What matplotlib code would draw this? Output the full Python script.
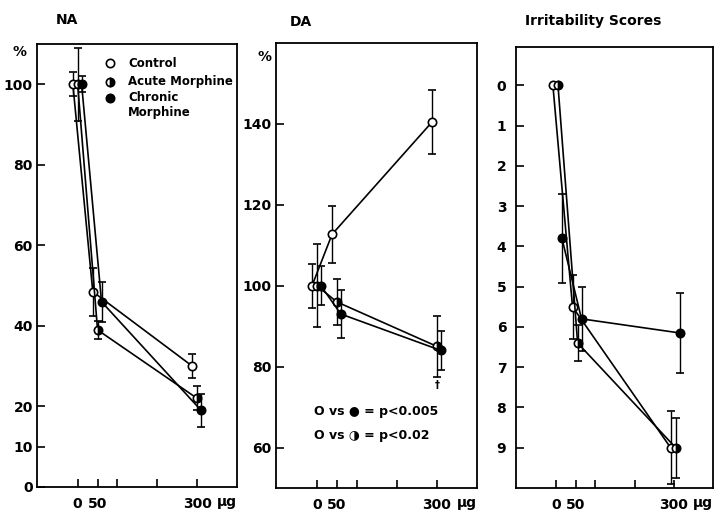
import matplotlib
matplotlib.use("Agg")
import matplotlib.pyplot as plt
import matplotlib.transforms as mtransforms

plt.rcParams['font.family'] = ['DejaVu Sans']
plt.rcParams['font.weight'] = 'bold'

# ---------------- data ----------------
doses = [0, 50, 300]
series_names = ["Control", "Acute Morphine", "Chronic\nMorphine"]

na_control = [100, 48.5, 30]
na_control_err = [3, 6, 3]
na_acute = [100, 39, 22]
na_acute_err = [9, 2.3, 3]
na_chronic = [100, 46, 19]
na_chronic_err = [2, 5, 4]

da_control = [100, 112.7, 140.5]
da_control_err = [5.4, 7, 8]
da_acute = [100, 96, 85]
da_acute_err = [10.2, 5.7, 7.6]
da_chronic = [100, 93, 84]
da_chronic_err = [4.8, 6, 4.8]

irr_control = [0, 5.5, 9.0]
irr_control_err = [0, 0.8, 0.9]
irr_acute = [0, 6.4, 9.0]
irr_acute_err = [0, 0.45, 0.75]
irr_chronic = [3.8, 5.8, 6.15]
irr_chronic_err = [1.1, 0.8, 1.0]

x_ticks = [0, 50, 100, 200, 300]
x_ticklabels = ["0", "50", "", "", "300"]
na_yticks = [0, 10, 20, 40, 60, 80, 100]
da_yticks = [60, 80, 100, 120, 140]
irr_yticks = [0, 1, 2, 3, 4, 5, 6, 7, 8, 9]
annot_lines = ["O vs \u25CF = p<0.005", "O vs \u25D1 = p<0.02"]

# ---------------- style ----------------
W, H = 721, 512
fig = plt.figure(figsize=(W / 100, H / 100), dpi=100)

def frac_rect(l, r, t, b):
    return [l / W, 1 - b / H, (r - l) / W, (b - t) / H]

styles = [
    dict(marker='o', mfc='white', mec='black'),
    dict(marker='o', mfc='black', mec='black', fillstyle='right', markerfacecoloralt='white'),
    dict(marker='o', mfc='black', mec='black'),
]
offsets_na = [-12, 0, 10]
offsets_da = [-12, 0, 10]
offsets_irr = [-8, 5, 15]

FS = 10

def draw_panel(ax, groups, offsets):
    for (vals, errs), st, off in zip(groups, styles, offsets):
        xs = [d + off for d in doses]
        ax.errorbar(xs, vals, yerr=errs, color='black', lw=1.2, elinewidth=1.0,
                    capsize=2.6, capthick=1.0, ms=6, mew=1.2, zorder=3, **st)
    ax.set_xlim(-102, 400)
    ax.set_xticks(x_ticks)
    ax.set_xticklabels(x_ticklabels)
    ax.tick_params(direction='in', length=6, width=1.2, labelsize=FS, top=False, right=False)
    ax.tick_params(axis='x', pad=7)
    ax.tick_params(axis='y', pad=3)
    for s in ax.spines.values():
        s.set_linewidth(1.3)
    trans = mtransforms.blended_transform_factory(ax.transData, ax.transAxes)
    ax.text(375, -0.034, "\u00b5g", transform=trans, ha='center', va='center', fontsize=FS)

# NA
ax1 = fig.add_axes(frac_rect(37, 237, 44, 487))
draw_panel(ax1, [(na_control, na_control_err), (na_acute, na_acute_err),
                 (na_chronic, na_chronic_err)], offsets_na)
ax1.set_ylim(0, 110)
ax1.set_yticks(na_yticks)
ax1.set_yticklabels([str(v) for v in na_yticks])
t1 = mtransforms.blended_transform_factory(ax1.transAxes, ax1.transData)
ax1.text(-0.09, 108, "%", transform=t1, ha='center', va='center', fontsize=FS)
ax1.text(0.15, 1.054, "NA", transform=ax1.transAxes, ha='center', va='center', fontsize=FS)

# legend (manual)
leg_marker_y = [0.957, 0.915, 0.878]
leg_text_y = [0.957, 0.915, 0.893]
for st, name, ym, yt in zip(styles, series_names, leg_marker_y, leg_text_y):
    ax1.plot([0.365], [ym], transform=ax1.transAxes, ms=6, mew=1.2, ls='none',
             clip_on=False, **st)
    ax1.text(0.455, yt, name, transform=ax1.transAxes, ha='left',
             va='top' if '\n' in name else 'center', fontsize=8.5, linespacing=1.15)

# DA
ax2 = fig.add_axes(frac_rect(276, 477, 43, 488))
draw_panel(ax2, [(da_control, da_control_err), (da_acute, da_acute_err),
                 (da_chronic, da_chronic_err)], offsets_da)
ax2.set_ylim(50, 160)
ax2.set_yticks(da_yticks)
ax2.set_yticklabels([str(v) for v in da_yticks])
t2 = mtransforms.blended_transform_factory(ax2.transAxes, ax2.transData)
ax2.text(-0.055, 156.5, "%", transform=t2, ha='center', va='center', fontsize=FS)
ax2.text(0.125, 1.048, "DA", transform=ax2.transAxes, ha='center', va='center', fontsize=FS)
ax2.text(doses[2], 75.5, "\u2020", ha='center', va='center', fontsize=7)
ax2.text(0.19, 0.173, annot_lines[0], transform=ax2.transAxes, ha='left', va='center', fontsize=9)
ax2.text(0.19, 0.119, annot_lines[1], transform=ax2.transAxes, ha='left', va='center', fontsize=9)

# Irritability
ax3 = fig.add_axes(frac_rect(516, 713, 47, 488))
draw_panel(ax3, [(irr_control, irr_control_err), (irr_acute, irr_acute_err),
                 (irr_chronic, irr_chronic_err)], offsets_irr)
ax3.set_ylim(10, -0.95)
ax3.set_yticks(irr_yticks)
ax3.set_yticklabels([str(v) for v in irr_yticks])
ax3.tick_params(axis='y', pad=7)
ax3.text(0.39, 1.06, "Irritability Scores", transform=ax3.transAxes, ha='center', va='center',
         fontsize=FS)

fig.savefig("out.png", dpi=100, facecolor='white')
